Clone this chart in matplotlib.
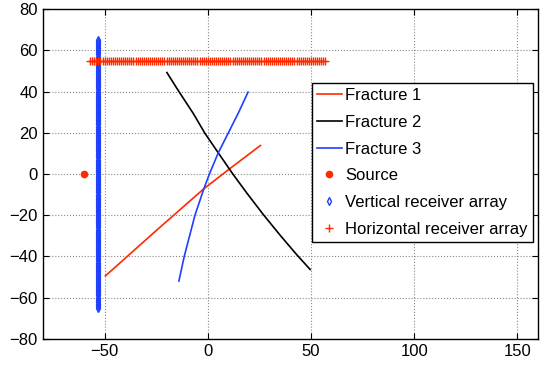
import numpy as np
import matplotlib
matplotlib.use('Agg')
import matplotlib.pyplot as plt

# --- dados ---
frac1_x = [-49.6, -25, -1.9, 10.6, 25.5]
frac1_y = [-49.5, -27.5, -7.2, 2.5, 13.8]

frac2_x = [-19.8, -14, -7, -1.5, 5.1, 12.1, 19, 26.8, 35, 43, 49.6]
frac2_y = [49.2, 40, 29.3, 19.9, 10.2, 0, -9.4, -19.6, -29.7, -39.1, -46.4]

frac3_x = [-14, -11.4, -6.2, -1.9, 0.8, 5.1, 10, 15, 19.5]
frac3_y = [-52, -40, -20, -7.2, 0, 10.3, 20, 30, 39.7]

source_x = [-60]
source_y = [0]

# receptores: posicao fixa, inicio, fim e espacamento
vert_x0 = -53
vert_ystart, vert_yend, vert_step = -65, 65, 1
horiz_y0 = 55
horiz_xstart, horiz_xend, horiz_step = -57, 57, 1

x_ticks = [-50, 0, 50, 100, 150]
y_ticks = [-80, -60, -40, -20, 0, 20, 40, 60, 80]

RED = '#ff2a00'
BLUE = '#1f3fff'

plt.rcParams['font.family'] = ['Liberation Sans', 'DejaVu Sans']
plt.rcParams['font.size'] = 12
plt.rcParams['axes.unicode_minus'] = True

fig = plt.figure(figsize=(5.43, 3.65), dpi=100)
ax = fig.add_axes([0.0786, 0.072, 0.9122, 0.903])

vy = np.arange(vert_ystart, vert_yend + vert_step, vert_step)
hx = np.arange(horiz_xstart, horiz_xend + horiz_step, horiz_step)

ax.plot(frac1_x, frac1_y, '-', color=RED, lw=1.2, label='Fracture 1')
ax.plot(frac2_x, frac2_y, '-', color='black', lw=1.2, label='Fracture 2')
ax.plot(frac3_x, frac3_y, '-', color=BLUE, lw=1.2, label='Fracture 3')
ax.plot(source_x, source_y, 'o', color=RED, ms=4.5, mec=RED, label='Source')
ax.plot(np.full(len(vy), vert_x0), vy, 'd', ms=4.2, mfc='none', mec=BLUE,
        mew=1.0, label='Vertical receiver array')
ax.plot(hx, np.full(len(hx), horiz_y0), '+', ms=5.5, color=RED, mew=1.0,
        label='Horizontal receiver array')

ax.set_xlim(-80, 160)
ax.set_ylim(-80, 80)
ax.set_xticks(x_ticks)
ax.set_yticks(y_ticks)
ax.grid(True, linestyle=':', color='#888888', linewidth=0.8)
ax.tick_params(direction='in', top=True, right=True, length=4, width=0.8)
for s in ax.spines.values():
    s.set_linewidth(1.0)

leg = ax.legend(loc='upper left', bbox_to_anchor=(0.574, 0.772),
                bbox_transform=fig.transFigure, borderaxespad=0,
                fancybox=False, framealpha=1, edgecolor='black',
                handlelength=1.5, handletextpad=0.2, labelspacing=0.7,
                borderpad=0.3)
leg.get_frame().set_linewidth(1.0)

fig.savefig('out.png', dpi=100)
